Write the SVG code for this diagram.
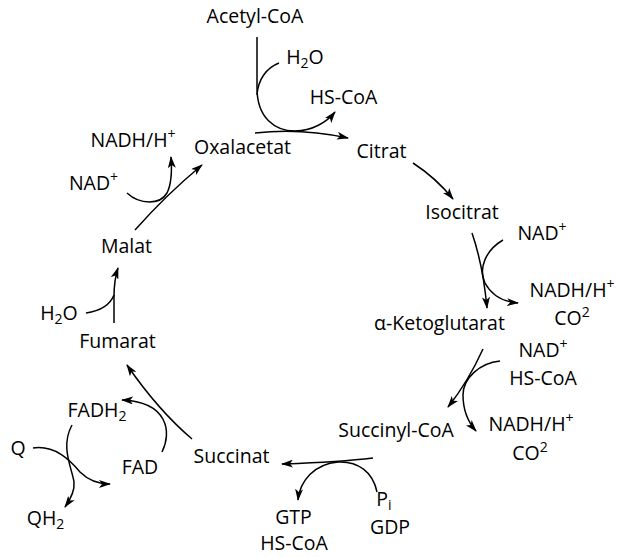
<svg xmlns="http://www.w3.org/2000/svg" width="617" height="557" viewBox="0 0 617 557">
  <style>
    text { font-family: "Open Sans", "Noto Sans", "Liberation Sans", sans-serif; font-size: 19.5px; fill: #000; text-anchor: middle; }
    .sub { font-size: 14px; }
    .ln { fill: none; stroke: #000; stroke-width: 1.5; }
    .ar { marker-end: url(#head); }
  </style>
  <defs>
    <marker id="head" viewBox="0 0 12 8" refX="11" refY="4" markerWidth="12" markerHeight="8" markerUnits="userSpaceOnUse" orient="auto">
      <path d="M0,0 L12,4 L0,8 L3,4 z" fill="#000"/>
    </marker>
  </defs>

  <!-- reaction arrows -->
  <g id="connectors">
    <!-- acetyl-CoA + oxaloacetate -> citrate -->
    <path class="ln ar" d="M257,37 L257,88 C257,118 275,131 295,131 C312,131 327,122 335,112"/>
    <path class="ln" d="M279,63 C266,68 258,80 257,95"/>
    <path class="ln ar" d="M255,133 C290,129 320,132 348,138"/>
    <!-- citrate -> isocitrate -->
    <path class="ln ar" d="M413,163 Q436,178 453,199"/>
    <!-- isocitrate -> alpha-ketoglutarate -->
    <path class="ln ar" d="M472,233 Q483,265 487,308"/>
    <path class="ln ar" d="M503,240 C486,250 478,268 485,283 C492,296 505,302 518,303"/>
    <!-- alpha-ketoglutarate -> succinyl-CoA -->
    <path class="ln ar" d="M483,349 Q468,382 448,407"/>
    <path class="ln ar" d="M500,361 C480,363 463,378 463,395 C463,410 468,422 476,431"/>
    <!-- succinyl-CoA -> succinate -->
    <path class="ln ar" d="M373,458 C340,462 310,463 282,464"/>
    <path class="ln ar" d="M377,492 C373,472 358,461 338,462 C315,464 300,480 298,500"/>
    <!-- succinate -> fumarate -->
    <path class="ln ar" d="M192,439 Q158,410 127,365"/>
    <path class="ln ar" d="M162,452 C172,432 168,402 122,400"/>
    <path class="ln ar" d="M72,425 C60,447 72,468 74,482 C75,492 70,500 65,507"/>
    <path class="ln ar" d="M33,448 C55,445 70,460 80,472 C90,482 100,484 110,484"/>
    <!-- fumarate -> malate -->
    <path class="ln ar" d="M114,323 L114,297 Q114,280 118,268"/>
    <path class="ln" d="M86,313 C100,311 110,305 114,295"/>
    <!-- malate -> oxaloacetate -->
    <path class="ln ar" d="M135,230 Q166,195 202,165"/>
    <path class="ln ar" d="M127,193 C140,205 160,205 167,193 C172,183 172,170 171,157"/>
  </g>

  <g id="acetyl-coa"><text x="255" y="23">Acetyl-CoA</text></g>
  <g id="h2o-1"><text x="305" y="64">H<tspan class="sub" dy="4">2</tspan><tspan dy="-4">O</tspan></text></g>
  <g id="hs-coa-1"><text x="343.5" y="104">HS-CoA</text></g>
  <g id="oxalacetat"><text x="242.5" y="154">Oxalacetat</text></g>
  <g id="citrat"><text x="381.5" y="158">Citrat</text></g>
  <g id="nadh-1"><text x="133" y="147">NADH/H<tspan class="sub" dy="-8">+</tspan></text></g>
  <g id="nad-1"><text x="93.5" y="190">NAD<tspan class="sub" dy="-8">+</tspan></text></g>
  <g id="malat"><text x="126.5" y="253">Malat</text></g>
  <g id="isocitrat"><text x="462" y="219">Isocitrat</text></g>
  <g id="nad-2"><text x="542" y="240">NAD<tspan class="sub" dy="-8">+</tspan></text></g>
  <g id="nadh-2">
    <text x="572" y="297">NADH/H<tspan class="sub" dy="-8">+</tspan><tspan x="572" dy="36">CO</tspan><tspan class="sub" dy="-8">2</tspan></text>
  </g>
  <g id="ketoglutarat"><text x="439.5" y="330">α-Ketoglutarat</text></g>
  <g id="h2o-2"><text x="59" y="320">H<tspan class="sub" dy="4">2</tspan><tspan dy="-4">O</tspan></text></g>
  <g id="fumarat"><text x="117.5" y="348">Fumarat</text></g>
  <g id="nad-3">
    <text x="543" y="357">NAD<tspan class="sub" dy="-8">+</tspan><tspan x="543" dy="36">HS-CoA</tspan></text>
  </g>
  <g id="succinyl-coa"><text x="396" y="437">Succinyl-CoA</text></g>
  <g id="nadh-3">
    <text x="531" y="431">NADH/H<tspan class="sub" dy="-8">+</tspan><tspan x="530" dy="37">CO</tspan><tspan class="sub" dy="-8">2</tspan></text>
  </g>
  <g id="fadh2"><text x="97" y="417">FADH<tspan class="sub" dy="4">2</tspan></text></g>
  <g id="q"><text x="18" y="455">Q</text></g>
  <g id="fad"><text x="140" y="474">FAD</text></g>
  <g id="succinat"><text x="231.5" y="463">Succinat</text></g>
  <g id="qh2"><text x="45.5" y="525">QH<tspan class="sub" dy="4">2</tspan></text></g>
  <g id="gtp">
    <text x="293.5" y="524">GTP<tspan x="294" dy="26">HS-CoA</tspan></text>
  </g>
  <g id="gdp">
    <text x="384" y="506">P<tspan class="sub" dy="4">i</tspan><tspan x="390" dy="24">GDP</tspan></text>
  </g>
</svg>
